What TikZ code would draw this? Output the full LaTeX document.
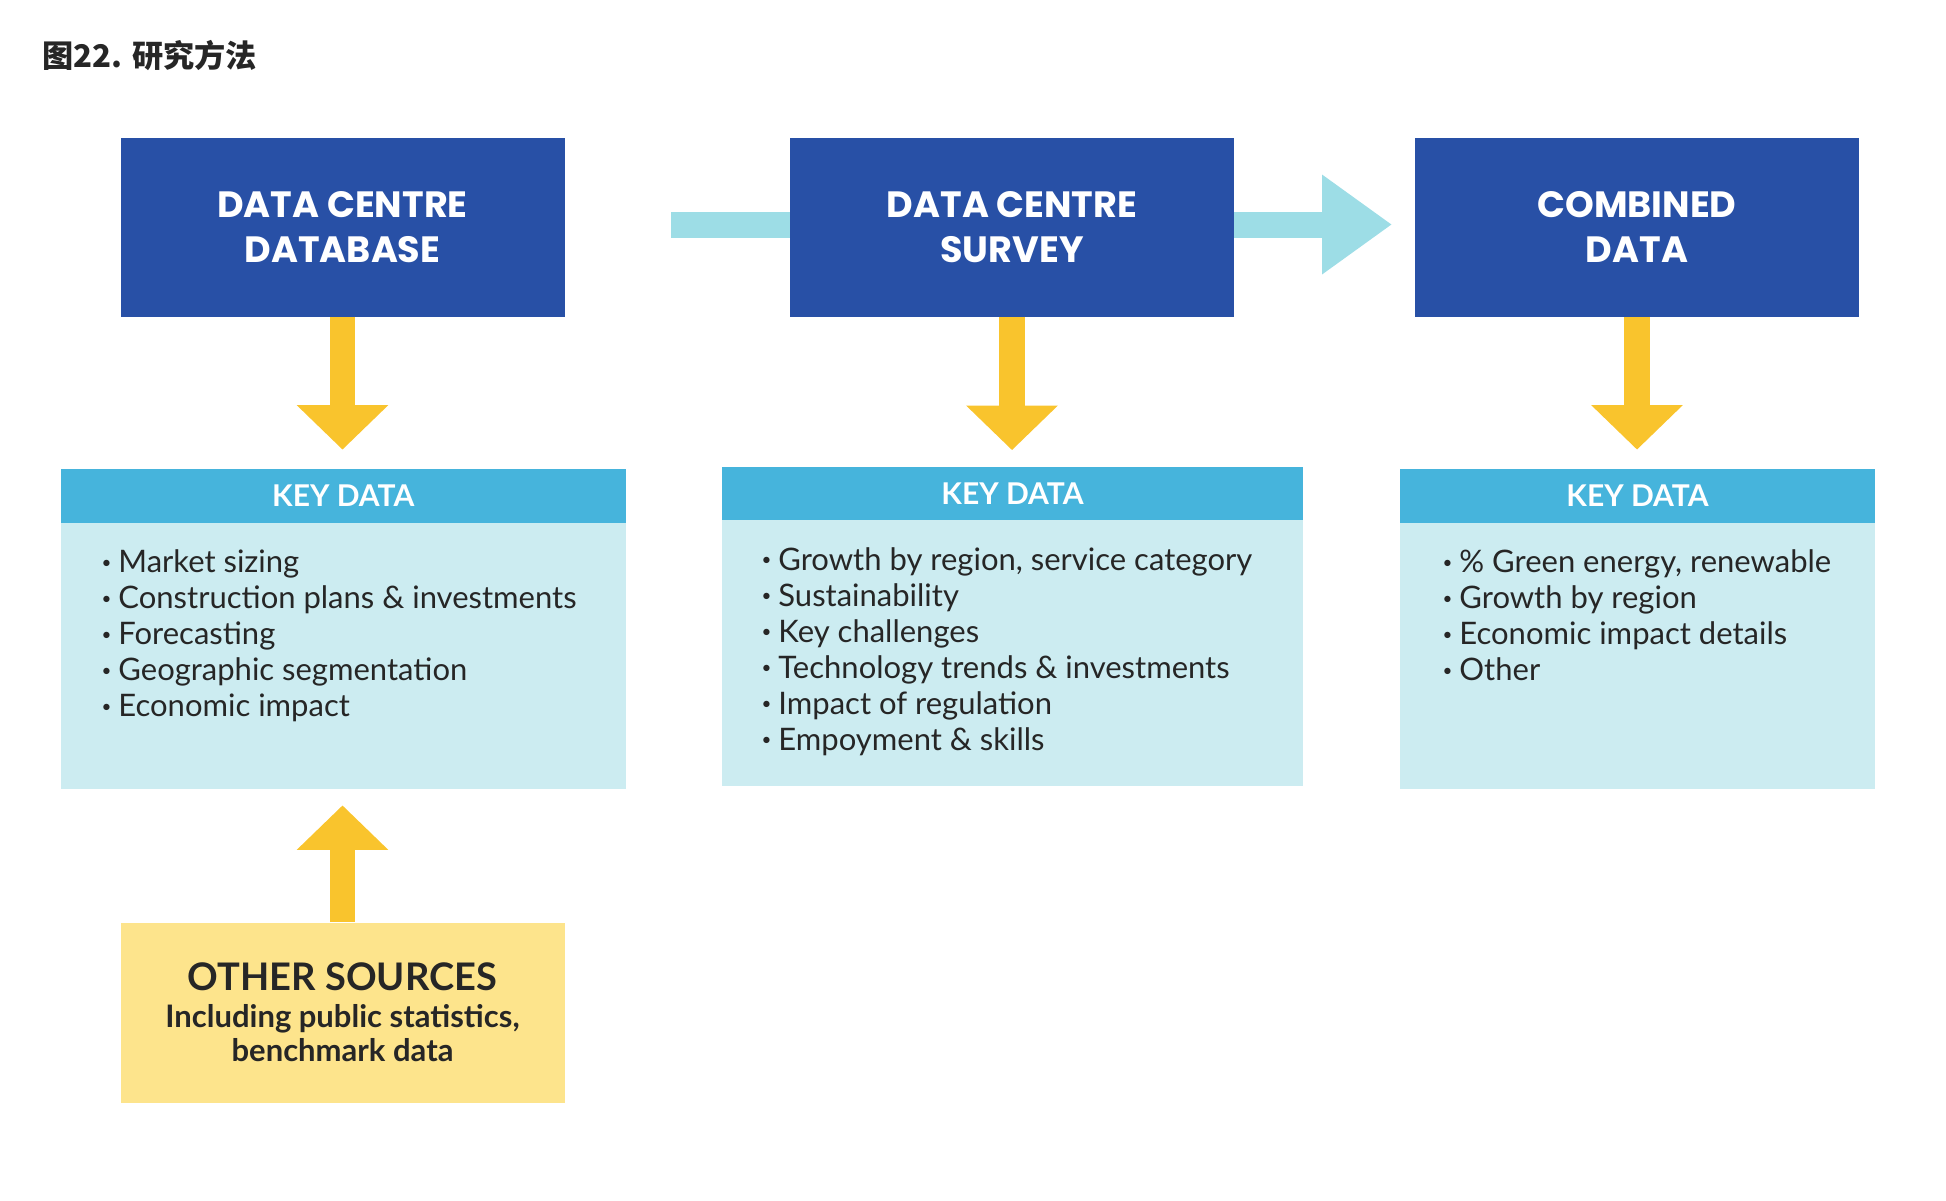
\documentclass[tikz,border=0pt]{standalone}
\usepackage{fontspec}
\setmainfont{Lato}
\newfontfamily\cjk{Noto Sans CJK SC}
\newfontfamily\pop{Poppins}
\usetikzlibrary{arrows.meta,calc}
\definecolor{dblue}{HTML}{2850A6}
\definecolor{cyanarr}{HTML}{9DDDE6}
\definecolor{keyhead}{HTML}{46B4DC}
\definecolor{keybody}{HTML}{CCECF1}
\definecolor{yel}{HTML}{F9C42D}
\definecolor{srcbox}{HTML}{FDE48C}
\definecolor{txt}{HTML}{262626}
\newcommand{\itm}[1]{\makebox[9pt][l]{\hspace{0.6pt}\raisebox{2.2pt}{\fontsize{8.5pt}{8.5pt}\selectfont •}}#1}
\tikzset{
  topbox/.style={fill=dblue, text=white, minimum width=222pt, minimum height=89.5pt,
    inner sep=0pt, align=center, font=\pop\bfseries\fontsize{18.3pt}{22.2pt}\selectfont},
  keybox/.style={fill=keybody, inner sep=0pt, minimum height=160pt},
  keyhdr/.style={fill=keyhead, text=white, inner sep=0pt, minimum height=26.75pt,
    anchor=north, font=\bfseries\fontsize{15pt}{15pt}\selectfont},
  listtxt/.style={anchor=base west, inner sep=0pt, text=txt,
    font=\fontsize{15.5pt}{18pt}\selectfont},
  yarr/.style={draw=yel, line width=12.75pt, -{Triangle[width=44.5pt,length=22.25pt]}},
  cline/.style={draw=cyanarr, line width=13pt},
  carr/.style={draw=cyanarr, line width=13pt, -{Triangle[width=47.5pt,length=35pt]}},
}
\begin{document}
\begin{tikzpicture}[x=0.5pt,y=-0.5pt]
\useasboundingbox (0,0) rectangle (1946,1200);
% title
\node[anchor=west, inner sep=0pt, text=txt, font=\cjk\bfseries\fontsize{15.6pt}{15.6pt}\selectfont] (title) at (42,56) {图22. 研究方法};
% top boxes
\node[topbox] (b1) at (342.5,227) {DATA CENTRE\\DATABASE};
\node[topbox] (b2) at (1012,227) {DATA CENTRE\\SURVEY};
\node[topbox] (b3) at (1637,227) {COMBINED\\DATA};
% key data boxes
\node[keybox, minimum width=282.25pt] (k1) at (343.25,629) {};
\node[keybox, minimum width=290.5pt, minimum height=159.5pt] (k2) at (1012.5,626) {};
\node[keybox, minimum width=237.5pt] (k3) at (1637.5,629) {};
\node[keyhdr, minimum width=282.25pt] (k1h) at (k1.north) {KEY DATA};
\node[keyhdr, minimum width=290.5pt] (k2h) at (k2.north) {KEY DATA};
\node[keyhdr, minimum width=237.5pt] (k3h) at (k3.north) {KEY DATA};
% lists
\node[listtxt] (l1) at (100,572.7) {\parbox[t]{270pt}{\raggedright
  \itm{Market sizing}\\
  \itm{Construction plans \& investments}\\
  \itm{Forecasting}\\
  \itm{Geographic segmentation}\\
  \itm{Economic impact}}};
\node[listtxt] (l2) at (760,570) {\parbox[t]{280pt}{\raggedright
  \itm{Growth by region, service category}\\
  \itm{Sustainability}\\
  \itm{Key challenges}\\
  \itm{Technology trends \& investments}\\
  \itm{Impact of regulation}\\
  \itm{Empoyment \& skills}}};
\node[listtxt] (l3) at (1441,572.7) {\parbox[t]{230pt}{\raggedright
  \itm{\% Green energy, renewable}\\
  \itm{Growth by region}\\
  \itm{Economic impact details}\\
  \itm{Other}}};
% other sources
\node[fill=srcbox, text=txt, minimum width=222pt, minimum height=90pt, inner sep=0pt] (os) at (342.5,1012.5)
  {\parbox{222pt}{\centering\bfseries
   \fontsize{19pt}{19pt}\selectfont OTHER SOURCES\par
   \fontsize{15.5pt}{18.35pt}\selectfont Including public statistics,\par
   \fontsize{15.5pt}{17pt}\selectfont benchmark data\par}};
% yellow arrows
\draw[yarr] (b1.south) -- ($(b1.south |- k1.north)+(0,-19)$);
\draw[yarr] (b2.south) -- ($(b2.south |- k2.north)+(0,-16)$);
\draw[yarr] (b3.south) -- ($(b3.south |- k3.north)+(0,-19)$);
\draw[yarr] (os.north) -- ($(os.north |- k1.south)+(0,16)$);
% cyan arrows
\coordinate (cs) at (671,224.5);
\coordinate (ce) at (1392,224.5);
\draw[cline] (cs) -- (cs -| b2.west);
\draw[carr] (ce -| b2.east) -- (ce);
\end{tikzpicture}
\end{document}
